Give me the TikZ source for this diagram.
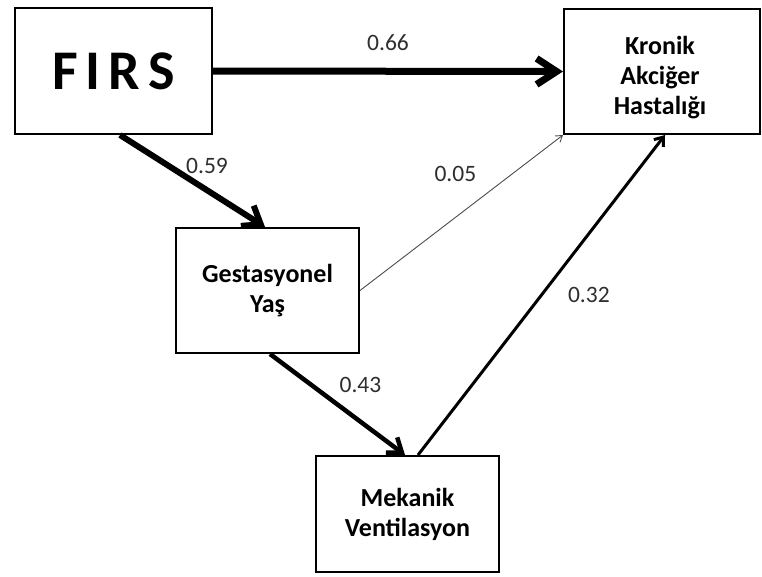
\documentclass[tikz,border=0pt]{standalone}
\usepackage{fontspec}
\setmainfont{Carlito}
\usetikzlibrary{arrows.meta}

\begin{document}
\begin{tikzpicture}[x=1pt,y=-1pt,
  box/.style={draw,line width=2pt,inner sep=0pt,align=center,
    font=\fontsize{26}{30}\selectfont\bfseries},
  boxtext/.style={inner sep=0pt,align=center,
    font=\fontsize{26}{30}\selectfont\bfseries},
  coef/.style={inner sep=0pt,text=black!82,font=\fontsize{23.5}{26}\selectfont},
  path66/.style={line width=7pt,-{Straight Barb[length=20pt,width=26pt]}},
  path59/.style={line width=6pt,-{Straight Barb[length=16pt,width=24pt]}},
  path43/.style={line width=4.5pt,-{Straight Barb[length=13pt,width=19pt]}},
  path32/.style={line width=3pt,-{Straight Barb[length=8pt,width=12pt]}},
  path05/.style={line width=0.9pt,draw=black!70,-{Straight Barb[length=6pt,width=8pt]}}]

\useasboundingbox (0,0) rectangle (762,576);

\node[box,minimum width=197pt,minimum height=126pt] (firs) at (113.5,71)
  {\fontsize{56}{60}\selectfont F\hspace{8pt}I\hspace{8pt}R\hspace{8pt}S};
\node[box,minimum width=196pt,minimum height=125pt] (kah) at (662,71.5) {};
\node[boxtext] (kahtext) at (660,78) {Kronik\\Akciğer\\Hastalığı};
\node[box,minimum width=183pt,minimum height=125pt] (gy) at (267.5,290.5)
  {Gestasyonel\\Yaş};
\node[box,minimum width=183pt,minimum height=116pt] (mv) at (407.5,514)
  {Mekanik\\Ventilasyon};

\draw[path66] (firs.east) -- (kah.west) node[coef,midway,above=17pt] {0.66};
\draw[path59] ([xshift=6.5pt]firs.south) -- ([xshift=-2.5pt]gy.north)
  node[coef,pos=0.6,above=14pt] {0.59};
\draw[path05] (gy.east) -- (kah.south west) node[coef,pos=0.47,above=35pt] {0.05};
\draw[path43] ([xshift=2.5pt]gy.south) -- ([xshift=-2.5pt]mv.north)
  node[coef,pos=0.67,above=27pt] {0.43};
\draw[path32] ([xshift=10.5pt]mv.north) -- ([xshift=3pt]kah.south)
  node[coef,pos=0.5,right=25pt] {0.32};

\end{tikzpicture}
\end{document}
